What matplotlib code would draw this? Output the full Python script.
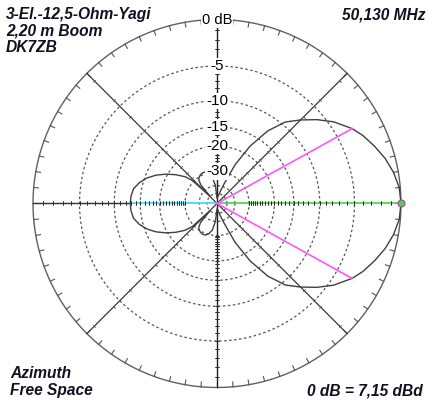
import numpy as np
import matplotlib
matplotlib.use("Agg")
import matplotlib.pyplot as plt

# Azimuth pattern (half pattern, symmetric about 0 deg)
az_deg = [0, 5, 10, 15, 20, 25, 29, 35, 40, 45, 50, 55, 60, 65, 70, 75, 80, 85, 90,
          95, 100, 105, 110, 115, 120, 125, 128, 131, 134, 137, 140, 145, 150, 155,
          160, 165, 170, 175, 180]
gain_db = [0, -0.1, -0.45, -0.95, -1.6, -2.3, -3.0, -4.4, -5.9, -7.6, -9.4, -12.5,
           -17.5, -25, -37, -46, -54, -58, -60,
           -40, -33, -30.5, -29.2, -29.0, -29.4, -30.3, -31.5, -34.5, -50, -29.0,
           -25.5, -22.3, -19.6, -17.3, -15.5, -14.2, -13.3, -13.0, -12.9]

ring_db = [-5, -10, -15, -20, -30, -40, -50]
ring_labels = ["-5", "-10", "-15", "-20", "-30"]
beam_deg = 29          # -3 dB points
beam_db = -3.0
back_db = -12.9        # gain at 180 deg

title_lines = ["3-El.-12,5-Ohm-Yagi", "2,20 m Boom", "DK7ZB"]
freq_text = "50,130 MHz"
foot_lines = ["Azimuth", "Free Space"]
ref_text = "0 dB = 7,15 dBd"


# ARRL log scale: 2 dB per 0.89 radius step
def db_to_r(db):
    return 0.89 ** (-np.asarray(db, dtype=float) / 2.0)


def r_to_db(r):
    r = np.clip(np.asarray(r, dtype=float), 1e-12, None)
    return -2.0 * np.log(r) / np.log(0.89)


W, H = 435, 407
cx, cy, R = 217.0, 203.5, 184.0

fig = plt.figure(figsize=(W / 100, H / 100), dpi=100)
fig.patch.set_facecolor("white")
ax = fig.add_axes([(cx - R) / W, (H - cy - R) / H, 2 * R / W, 2 * R / H],
                  projection="polar")
ax.set_rscale("function", functions=(db_to_r, r_to_db))
ax.set_rlim(-200, 0)
ax.axis("off")

full = np.linspace(0, 2 * np.pi, 721)

# dashed rings
for d in ring_db:
    ax.plot(full, np.full_like(full, d), color="#555555", lw=0.9,
            ls=(0, (2, 2)), zorder=1)

# outer ring with 5 deg ticks
ax.plot(full, np.zeros_like(full), color="#606060", lw=1.0, clip_on=False, zorder=2)
for a in range(0, 360, 5):
    t = np.radians(a)
    ax.plot([t, t], [0, -0.45], color="#555555", lw=0.8, clip_on=False, zorder=2)

# spokes
for a in [45, 135, 225, 315]:
    t = np.radians(a)
    ax.plot([t, t], [0, -200], color="#383838", lw=0.9, clip_on=False, zorder=2)
    ax.plot(np.full(10, t), np.arange(-1, -31, -3), ls="none",
            marker=(2, 2, a), ms=2.0, mew=0.5, color="#606060", zorder=2)

# main axes
for a in [90, 270]:
    t = np.radians(a)
    ax.plot([t, t], [0, -200], color="#202020", lw=1.0, clip_on=False, zorder=3)
ax.plot([np.pi, np.pi], [0, back_db], color="#303030", lw=1.0, clip_on=False, zorder=3)
ax.plot([np.pi, np.pi], [back_db, -200], color="#33dde6", lw=1.2, zorder=3)
ax.plot([0, 0], [-200, 0], color="#44d444", lw=1.2, clip_on=False, zorder=3)
for a in [0, 90, 180, 270]:
    t = np.radians(a)
    ax.plot(np.full(30, t), np.arange(-1, -31, -1), ls="none",
            marker=(2, 2, a), ms=2.8, mew=0.55, color="#303030", zorder=3)

# pattern
half = np.radians(az_deg)
theta = np.concatenate([half, 2 * np.pi - half[::-1]])
gain = np.concatenate([gain_db, gain_db[::-1]])
ax.plot(theta, gain, color="#404040", lw=1.0, zorder=4)

# -3 dB beamwidth lines
for s in [1, -1]:
    t = np.radians(s * beam_deg)
    ax.plot([t, t], [-200, beam_db], color="#ff55ff", lw=1.2, zorder=5)

ax.plot([0], [0], marker="o", ms=5, mfc="#44dd44", mec="#aa44aa", mew=0.8,
        ls="none", clip_on=False, zorder=6)

# ring labels
box = dict(facecolor="white", edgecolor="none", pad=0.8)
ax.text(np.pi / 2, 0, "0 dB", ha="center", va="center", fontsize=10.5,
        family="Liberation Sans", bbox=box, zorder=7)
for d, lab in zip(ring_db, ring_labels):
    ax.text(np.pi / 2, d, lab, ha="center", va="center", fontsize=11,
            family="Liberation Sans", bbox=box, zorder=7)

# header / footer text
tkw = dict(fontsize=11.2, family="Liberation Sans", weight="bold", style="italic",
           color="#101020", va="baseline")
for i, line in enumerate(title_lines):
    fig.text(6 / W, 1 - (19 + 16.5 * i) / H, line, ha="left", **tkw)
fig.text(426 / W, 1 - 19 / H, freq_text, ha="right", **tkw)
for i, line in enumerate(foot_lines):
    fig.text(10 / W, 1 - (377.5 + 17.5 * i) / H, line, ha="left", **tkw)
fig.text(423 / W, 1 - 395 / H, ref_text, ha="right", **tkw)

fig.savefig("out.png", dpi=100, facecolor="white")
